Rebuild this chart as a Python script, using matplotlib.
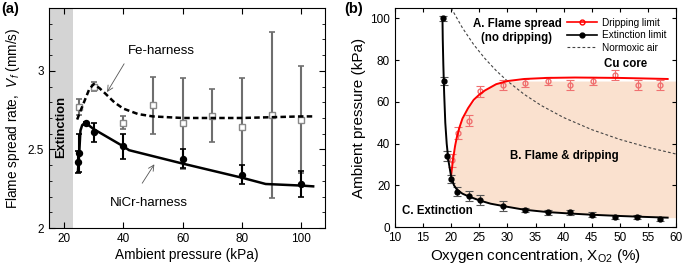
import matplotlib
matplotlib.use('Agg')
import matplotlib.pyplot as plt
from matplotlib.lines import Line2D
import numpy as np

plt.rcParams['font.family'] = ['Liberation Sans', 'DejaVu Sans']
plt.rcParams['mathtext.fontset'] = 'custom'
plt.rcParams['mathtext.rm'] = 'Liberation Sans'
plt.rcParams['mathtext.it'] = 'Liberation Sans:italic'

# ---- panel (a): flame spread rate vs ambient pressure ----
fe_p = [25, 30, 40, 50, 60, 70, 80, 90, 100]
fe_v = [2.77, 2.90, 2.67, 2.78, 2.665, 2.715, 2.645, 2.72, 2.69]
fe_err = [0.05, 0.03, 0.04, 0.18, 0.29, 0.17, 0.31, 0.53, 0.34]

nicr_p = [24.8, 25, 27.5, 30, 40, 60, 80, 100]
nicr_v = [2.42, 2.475, 2.665, 2.61, 2.52, 2.44, 2.34, 2.28]
nicr_err = [0.07, 0.12, 0.01, 0.06, 0.08, 0.06, 0.06, 0.08]

fe_fit_p = [24.5, 25.5, 27, 28.5, 30, 32, 34, 37, 40, 45, 50, 60, 70, 80, 90, 100, 104]
fe_fit_v = [2.69, 2.74, 2.81, 2.88, 2.915, 2.89, 2.855, 2.80, 2.76, 2.725, 2.71, 2.70, 2.70, 2.70, 2.705, 2.71, 2.71]

nicr_fit_p = [24.8, 25.2, 25.6, 26.2, 27.3, 30, 35, 40, 42, 60, 80, 88, 100, 104]
nicr_fit_v = [2.37, 2.48, 2.62, 2.655, 2.67, 2.63, 2.575, 2.52, 2.495, 2.41, 2.32, 2.28, 2.27, 2.265]

# ---- panel (b): flammability map ----
drip_x = [20.2, 21.2, 23.2, 25.2, 29.2, 33.2, 37.2, 41.2, 45.2, 49.2, 53.2, 57.2]
drip_y = [32, 45, 51, 65, 68, 69, 70, 68, 70, 73, 68, 68]
drip_err = [3, 3, 2.5, 2.5, 2.5, 2, 2, 2.5, 2, 2.5, 2.5, 2.5]

ext_x = [18.6, 18.8, 19.2, 20.0, 21.0, 23.2, 25.2, 29.2, 33.2, 37.2, 41.2, 45.1, 49.1, 53.1, 57.1]
ext_y = [100, 70, 34, 23, 17, 15, 13, 10, 8, 7, 7, 6, 5, 5, 4]
ext_err = [1, 2, 2.5, 2, 2, 2.5, 2.5, 2.5, 1, 1, 1, 1, 1, 1, 1]

drip_fit_x = [20, 20.3, 20.7, 21, 21.5, 22, 23, 24, 25, 26, 28, 30, 33, 37, 42, 50, 58.5]
drip_fit_y = [25, 32, 39, 43, 48, 52, 57, 61, 63.5, 65.5, 68.5, 70, 71, 71.5, 71.7, 71.5, 71]

ext_fit_x = [18.45, 18.5, 18.6, 18.75, 18.95, 19.2, 19.5, 20, 20.5, 21, 22, 23, 25, 27, 30, 33, 37, 41, 45, 50, 54, 58.5]
ext_fit_y = [100, 90, 78, 64, 50, 40, 32, 24, 20, 18, 16, 14.8, 12.8, 11.2, 9.7, 8.3, 7.2, 6.5, 5.9, 5.3, 4.9, 4.5]

air_x = [20, 22, 24, 26, 28, 30, 33, 36, 40, 45, 50, 55, 60]
air_y = [105, 95.5, 87.5, 80.8, 75, 70, 63.6, 58.3, 52.5, 46.7, 42, 38.2, 35]

fill_x = [20, 20.5, 21, 22, 23, 25, 27, 29, 30, 35, 40, 50, 58.5, 60]
fill_top = [25, 35, 43, 52, 57, 63.5, 67.5, 69.5, 70, 70, 70, 70, 70, 70]
fill_bot = [24, 20, 18, 16, 14.8, 12.8, 11.2, 10.2, 9.7, 7.7, 6.8, 5.3, 4.5, 4.5]

fig = plt.figure(figsize=(6.85, 2.69), dpi=100)

# ---------------- (a) ----------------
ax = fig.add_axes([0.0715, 0.1524, 0.403, 0.818])
ax.axvspan(15, 23, color='#d4d4d4', lw=0, zorder=0)
ax.errorbar(fe_p, fe_v, yerr=fe_err, fmt='s', ms=4.3, mfc='white', mec='#888888',
            ecolor='#6e6e6e', elinewidth=1.5, capsize=2.5, capthick=1.2, zorder=2)
ax.errorbar(nicr_p, nicr_v, yerr=nicr_err, fmt='o', ms=4.3, color='black',
            ecolor='black', elinewidth=1.5, capsize=2.5, capthick=1.2, zorder=3)
ax.plot(fe_fit_p, fe_fit_v, '--', color='black', lw=1.8, dashes=(2.2, 1.3), zorder=4)
ax.plot(nicr_fit_p, nicr_fit_v, '-', color='black', lw=1.8, zorder=4)

ax.set_xlim(15, 108)
ax.set_ylim(2, 3.4)
ax.set_xticks([20, 40, 60, 80, 100])
ax.set_yticks([2, 2.5, 3])
ax.set_yticklabels(['2', '2.5', '3'])
ax.set_yticks(np.arange(2, 3.41, 0.1), minor=True)
ax.tick_params(which='both', direction='in', top=True, right=True, labelsize=8.5)
ax.tick_params(which='major', length=4)
ax.tick_params(which='minor', length=2.5)
ax.set_xlabel('Ambient pressure (kPa)', fontsize=9.8, labelpad=2)
ax.set_ylabel('Flame spread rate,  $V_f$ (mm/s)', fontsize=9.8, labelpad=4)

ax.text(19, 2.64, 'Extinction', rotation=90, fontsize=9.3, fontweight='bold',
        ha='center', va='center')
ax.annotate('', xy=(34.1, 2.85), xytext=(40.8, 3.06),
            arrowprops=dict(arrowstyle='->', color='#555555', lw=0.6))
ax.text(52.7, 3.126, 'Fe-harness', fontsize=9.5, ha='center', va='center')
ax.annotate('', xy=(51, 2.42), xytext=(45.9, 2.27),
            arrowprops=dict(arrowstyle='->', color='#555555', lw=0.6))
ax.text(48.7, 2.16, 'NiCr-harness', fontsize=9.5, ha='center', va='center')
fig.text(0.002, 0.965, '(a)', fontsize=10.5, fontweight='bold', va='center')

# ---------------- (b) ----------------
bx = fig.add_axes([0.5766, 0.156, 0.4104, 0.814])
bx.fill_between(fill_x, fill_bot, fill_top, color='#fae1cf', lw=0, zorder=0)
bx.plot(air_x, air_y, '--', color='#444444', lw=0.8, dashes=(2.5, 2))
bx.errorbar(drip_x, drip_y, yerr=drip_err, fmt='o', ms=3.5, mfc='none', mec='#f07070',
            ecolor='#f07070', elinewidth=0.8, capsize=3, capthick=0.8, zorder=3)
bx.errorbar(ext_x, ext_y, yerr=ext_err, fmt='o', ms=3.5, color='black',
            ecolor='#555555', elinewidth=0.8, capsize=3, capthick=0.8, zorder=3)
bx.plot(drip_fit_x, drip_fit_y, '-', color='red', lw=1.4, zorder=4)
bx.plot(ext_fit_x, ext_fit_y, '-', color='black', lw=1.4, zorder=4)

handles = [
    Line2D([], [], color='red', lw=1.2, marker='o', ms=3.5, mfc='none', mec='red'),
    Line2D([], [], color='black', lw=1.2, marker='o', ms=3.5),
    Line2D([], [], color='#444444', lw=0.8, ls='--', dashes=(2.5, 2)),
]
bx.legend(handles, ['Dripping limit', 'Extinction limit', 'Normoxic air'],
          loc='upper right', bbox_to_anchor=(1.0, 1.0), frameon=False, fontsize=7.2,
          handlelength=3.0, handletextpad=0.5, labelspacing=0.25, borderaxespad=0.55)

bx.set_xlim(10, 60)
bx.set_ylim(0, 105)
bx.set_xticks(np.arange(10, 61, 5))
bx.set_yticks([0, 20, 40, 60, 80, 100])
bx.tick_params(direction='in', top=True, right=True, labelsize=8.5, length=3)
bx.set_xlabel('Oxygen concentration, X$_{\\mathrm{O2}}$ (%)', fontsize=11, labelpad=2)
bx.set_ylabel('Ambient pressure (kPa)', fontsize=11, labelpad=3)

bx.text(31.7, 94, 'A. Flame spread\n(no dripping)', fontsize=8.3, fontweight='bold',
        ha='center', va='center', linespacing=1.3)
bx.text(51, 78.3, 'Cu core', fontsize=8.3, fontweight='bold', ha='center', va='center')
bx.text(40.2, 34, 'B. Flame & dripping', fontsize=8.3, fontweight='bold', ha='center', va='center')
bx.text(11.2, 7.7, 'C. Extinction', fontsize=8.3, fontweight='bold', ha='left', va='center')
fig.text(0.503, 0.965, '(b)', fontsize=10.5, fontweight='bold', va='center')

fig.savefig('out.png', dpi=100)
